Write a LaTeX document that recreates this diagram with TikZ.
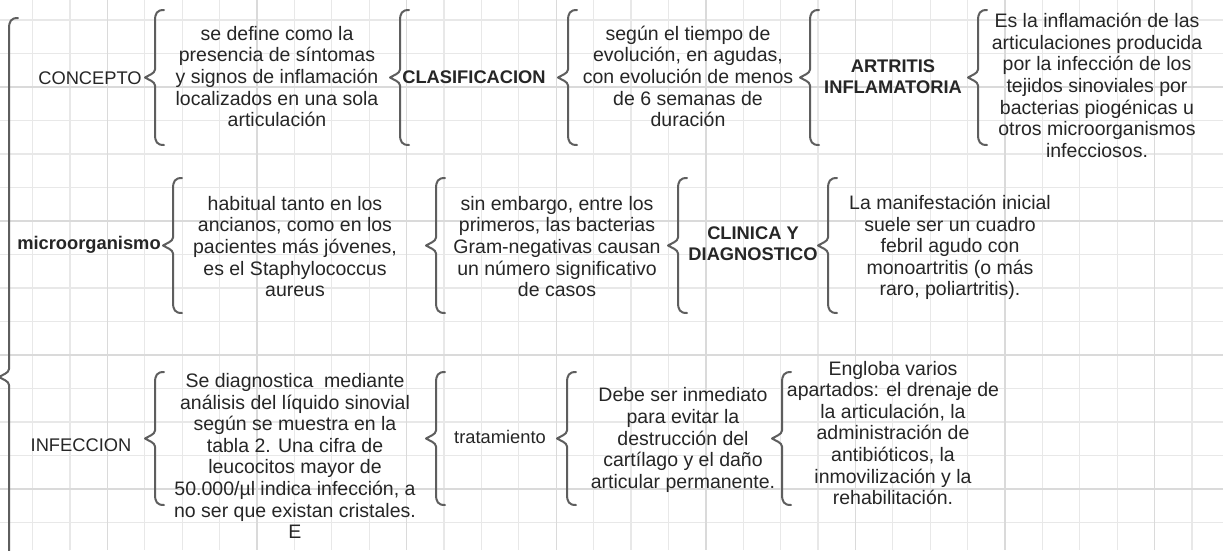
\documentclass[tikz,border=0pt]{standalone}
\usepackage{fontspec}
\setmainfont{Liberation Sans}
\definecolor{textc}{HTML}{262626}
\definecolor{bracec}{HTML}{5E5E5E}
\definecolor{gridmin}{HTML}{E8E8E8}
\definecolor{gridmaj}{HTML}{DADADA}
\newcommand\brc[3]{%
  \pgfmathsetmacro\brcmid{(#2+#3)/2}%
  \draw[brcstyle] ({#1+9},#2) .. controls ({#1+2},#2) and (#1,{#2+3}) .. (#1,{#2+11})
    -- (#1,{\brcmid-8}) .. controls (#1,{\brcmid-4}) and ({#1-7},{\brcmid-2}) .. ({#1-10},\brcmid)
    .. controls ({#1-7},{\brcmid+2}) and (#1,{\brcmid+4}) .. (#1,{\brcmid+8})
    -- (#1,{#3-11}) .. controls (#1,{#3-3}) and ({#1+2},#3) .. ({#1+9},#3);}
\begin{document}
\begin{tikzpicture}[x=1pt,y=-1pt,
  txt/.style={font=\fontsize{19.5}{21.6}\selectfont, text=textc, align=center, inner sep=0pt},
  lbl/.style={txt, font=\fontsize{18.3}{21}\selectfont},
  bold/.style={txt, font=\fontsize{18.3}{21}\selectfont\bfseries},
  brcstyle/.style={draw=bracec, line width=2pt, line cap=round, line join=round},
  gminor/.style={draw=gridmin, line width=1.2pt},
  gmajor/.style={draw=gridmaj, line width=1.4pt}]
\useasboundingbox (0,0) rectangle (1223,550);
\fill[white] (0,0) rectangle (1223,550);
\begin{scope}
\clip (0,0) rectangle (1223,550);
\foreach \k in {0,...,31} \draw[gminor] ({32.6+37.4*\k},0) -- ++(0,550);
\foreach \k in {0,...,15} \draw[gminor] (0,{20+33.5*\k}) -- ++(1223,0);
\foreach \k in {0,...,7} \draw[gmajor] ({107.4+149.6*\k},0) -- ++(0,550);
\foreach \k in {0,...,3} \draw[gmajor] (0,{87+134*\k}) -- ++(1223,0);
\brc{9}{18}{736}
\end{scope}

% row 1
\node[lbl] (concepto) at (90,78) {CONCEPTO};
\brc{155}{10}{145}
\node[txt] (def) at (277,76.5) {se define como la\\presencia de síntomas\\y signos de inflamación\\localizados en una sola\\articulación};
\brc{400}{10}{145}
\node[bold] (clasif) at (474,77) {CLASIFICACION};
\brc{568}{10}{145}
\node[txt] (segun) at (688,76.5) {según el tiempo de\\evolución, en agudas,\\con evolución de menos\\de 6 semanas de\\duración};
\brc{810}{10}{145}
\node[bold] (artritis) at (893,77) {ARTRITIS\\INFLAMATORIA};
\brc{978}{10}{145}
\node[txt] (esla) at (1097,85.5) {Es la inflamación de las\\articulaciones producida\\por la infección de los\\tejidos sinoviales por\\bacterias piogénicas u\\otros microorganismos\\infecciosos.};

% row 2
\node[bold] (micro) at (89,245) {microorganismo};
\brc{173}{178}{313}
\node[txt] (habitual) at (295,246.5) {habitual tanto en los\\ancianos, como en los\\pacientes más jóvenes,\\es el Staphylococcus\\aureus};
\brc{436}{178}{313}
\node[txt] (sinemb) at (557,246.5) {sin embargo, entre los\\primeros, las bacterias\\Gram-negativas causan\\un número significativo\\de casos};
\brc{678}{178}{313}
\node[bold] (clinica) at (753,243.5) {CLINICA Y\\DIAGNOSTICO};
\brc{828}{178}{313}
\node[txt] (manif) at (950,247.5) {La manifestación inicial\\suele ser un cuadro\\febril agudo con\\monoartritis (o más\\raro, poliartritis).};

% row 3
\node[lbl] (infeccion) at (81,445) {INFECCION};
\brc{155}{372}{505}
\node[txt] (sediag) at (295,456) {Se diagnostica\ \ mediante\\análisis del líquido sinovial\\según se muestra en la\\tabla 2. Una cifra de\\leucocitos mayor de\\50.000/µl indica infección, a\\no ser que existan cristales.\\E};
\brc{436}{372}{505}
\node[lbl] (trat) at (500,437) {tratamiento};
\brc{567}{372}{505}
\node[txt] (debe) at (683,440) {Debe ser inmediato\\para evitar la\\destrucción del\\cartílago y el daño\\articular permanente.};
\brc{782}{372}{505}
\node[txt] (engloba) at (893,433) {Engloba varios\\apartados: el drenaje de\\la articulación, la\\administración de\\antibióticos, la\\inmovilización y la\\rehabilitación.};
\end{tikzpicture}
\end{document}
